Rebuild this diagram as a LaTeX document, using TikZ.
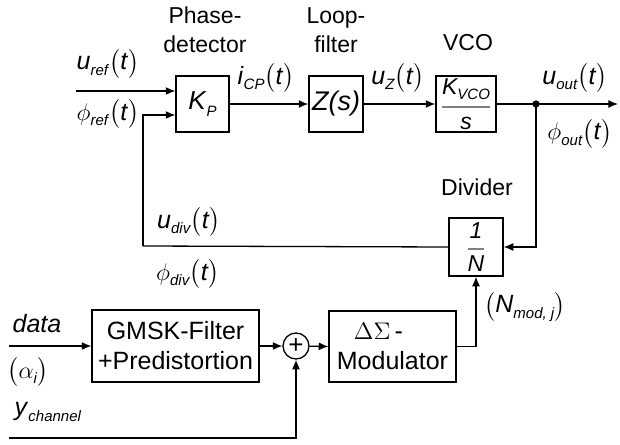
\documentclass[tikz,border=0pt]{standalone}
\usepackage{amsmath}
\usepackage{fontspec}
\setmainfont{Liberation Sans}
\usetikzlibrary{arrows.meta, positioning, calc}

\newcommand{\subtxt}[1]{\raisebox{-0.45ex}{\fontsize{7.5}{8}\selectfont\textit{#1}}}
\newcommand{\sgl}[2]{\textit{#1}\subtxt{#2}$\bigl($\textit{t}$\bigr)$}
\newcommand{\phsgl}[1]{$\phi$\subtxt{#1}$\bigl($\textit{t}$\bigr)$}
\newcommand{\grayfrac}[2]{${\color{gray}\genfrac{}{}{1pt}{0}{\textcolor{black}{#1}}{\textcolor{black}{#2}}}$}

\tikzset{
  blockbox/.style={draw, inner sep=0pt, align=center},
  sumnode/.style={draw, circle, inner sep=0pt, minimum size=13pt},
  sig/.style={inner sep=0pt, font=\fontsize{12.5}{14}\selectfont},
  title/.style={align=center, inner sep=0pt}
}

\begin{document}
\begin{tikzpicture}[x=0.5pt, y=-0.5pt, line width=0.65pt,
  >={Latex[length=4.8pt,width=4pt]},
  font=\fontsize{11.5}{14.5}\selectfont]
\useasboundingbox (0,0) rectangle (620,444);

% loop blocks
\node[blockbox, minimum width=26.5pt, minimum height=28pt, font=\fontsize{13}{14}\selectfont] (pd) at (202.5,104) {\textit{K}\subtxt{P}};
\node[blockbox, minimum width=27pt, minimum height=28pt, font=\fontsize{13.5}{14}\selectfont] (lf) at (336,104) {\textit{Z(s)}};
\node[blockbox, minimum width=30pt, minimum height=28pt] (vco) at (466,104) {\grayfrac{\text{\itshape K\subtxt{VCO}}}{\text{\itshape s}}};
\node[blockbox, minimum width=27pt, minimum height=29pt] (div) at (476,247) {\grayfrac{\text{\itshape 1}}{\text{\itshape N}}};

% modulation path
\node[blockbox, minimum width=83.5pt, minimum height=36pt, font=\fontsize{12.5}{15}\selectfont] (gmsk) at (175.5,346) {GMSK-Filter\\+Predistortion};
\node[sumnode, font=\fontsize{13}{13}\selectfont] (sum) at (296,346) {+};
\node[blockbox, minimum width=63.5pt, minimum height=35.5pt, font=\fontsize{12.5}{15}\selectfont] (mod) at (392.5,346.5) {\hspace*{-14pt}$\Delta\Sigma$\,-\\Modulator};

% titles
\node[title] at (205,30) {Phase-\\detector};
\node[title] at (336,30) {Loop-\\filter};
\node[title, anchor=base] at (468,51) {VCO};
\node[title, anchor=base] at (477,195) {Divider};

% coordinates
\coordinate (uin) at (76,91);
\coordinate (fbc) at (143,115);
\coordinate (fbb) at (143,246);
\coordinate (tap) at (536,104);
\coordinate (outp) at (618,104);
\coordinate (din) at (9,346);
\coordinate (yin) at (9,438);

% connectors
\draw[->] (uin) -- (uin -| pd.west);
\draw[->] (fbb) -- (fbc) -- (fbc -| pd.west);
\draw[->] (pd) -- (lf);
\draw[->] (lf) -- (vco);
\draw[->] (vco) -- (outp);
\fill (tap) circle (3.6);
\draw[->] (tap) |- (div.east);
\draw (div.west) -- (fbb);
\draw[->] (din) -- (gmsk.west);
\draw[->] (gmsk) -- (sum);
\draw[->] (sum) -- (mod.west);
\draw[->] (mod.east) -| (div.south);
\draw[->] (yin) -| (sum.south);

% signal labels
\node[sig] at (108,64) {\sgl{u}{ref}};
\node[sig] at (108,114) {\phsgl{ref}};
\node[sig] at (266,78) {\sgl{i}{CP}};
\node[sig] at (398,78) {\sgl{u}{Z}};
\node[sig] at (575,78) {\sgl{u}{out}};
\node[sig] at (580,134) {\phsgl{out}};
\node[sig] at (189,222) {\sgl{u}{div}};
\node[sig] at (188,274) {\phsgl{div}};
\node[sig] at (525,307) {$\bigl($\textit{N}\subtxt{mod, j}$\bigr)$};
\node[sig] at (37,324) {\textit{data}};
\node[sig] at (28,372) {$\bigl(\alpha$\subtxt{i}$\bigr)$};
\node[sig] at (48,412) {\textit{y}\subtxt{channel}};
\end{tikzpicture}
\end{document}
